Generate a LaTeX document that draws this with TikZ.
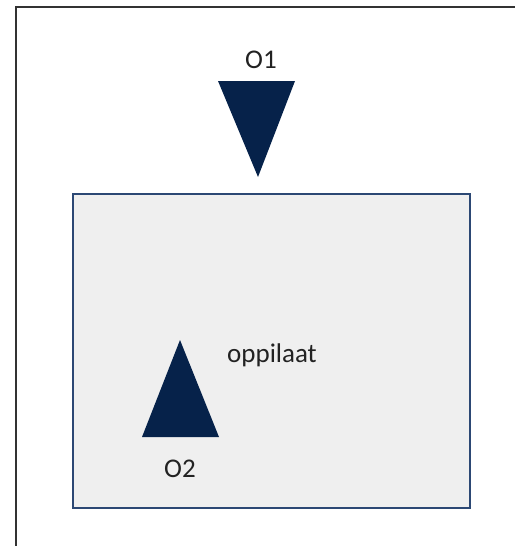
\documentclass[tikz,border=0pt]{standalone}
\usepackage{fontspec}
\setmainfont{Carlito}
\definecolor{navy}{RGB}{6,34,74}
\definecolor{boxedge}{RGB}{44,72,116}
\definecolor{boxfill}{RGB}{239,239,239}
\definecolor{frame}{RGB}{50,50,50}
\definecolor{txt}{RGB}{34,34,34}
\tikzset{
  lbl/.style={font=\fontsize{13.5}{15}\selectfont, text=txt, inner sep=0pt, anchor=base},
  tri/.style={fill=navy, draw=none},
}
\begin{document}
\begin{tikzpicture}[x=0.5pt,y=-0.5pt]
\useasboundingbox (0,0) rectangle (514,546);
% outer frame (open at right and bottom)
\draw[frame, line width=1.1pt] (16,560) -- (16,7) -- (530,7);
% inner box
\node[draw=boxedge, fill=boxfill, line width=0.75pt, minimum width=198.5pt, minimum height=157pt, inner sep=0pt, anchor=north west] (box) at (72,193) {};
% triangles
\path[tri] (218,81) -- (295,81) -- (258,177) -- cycle;
\path[tri] (180,340) -- (219,437) -- (142,437) -- cycle;
% labels
\node[lbl] (o1) at (261,68) {O1};
\node[lbl] (o2) at (180,477) {O2};
\node[lbl] (opp) at (272,362) {oppilaat};
\end{tikzpicture}
\end{document}
